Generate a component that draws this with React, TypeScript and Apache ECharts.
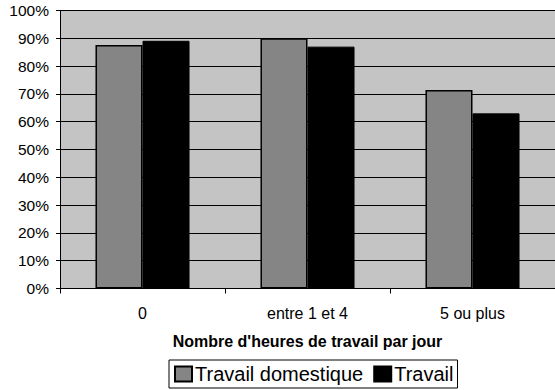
import React, { useEffect, useRef } from "react";
import * as echarts from "echarts";

const categories = ["0", "entre 1 et 4", "5 ou plus"];
const travailDomestique = [87.6, 90.0, 71.4];
const travail = [89.1, 87.0, 63.0];
const seriesNames = ["Travail domestique", "Travail"];
const xAxisTitle = "Nombre d'heures de travail par jour";

export default function App() {
  const ref = useRef<HTMLDivElement>(null);
  useEffect(() => {
    if (!ref.current) return;
    const chart = echarts.init(ref.current, undefined, { renderer: "svg" });
    const font = "'Liberation Sans', Arial, sans-serif";
    chart.setOption({
      animation: false,
      backgroundColor: "#ffffff",
      grid: {
        left: 60,
        top: 10.5,
        width: 504,
        height: 278,
        show: true,
        backgroundColor: "#c4c4c4",
        borderWidth: 0,
      },
      legend: {
        data: seriesNames,
        top: 360,
        left: 169,
        icon: "rect",
        itemWidth: 17,
        itemHeight: 15,
        itemGap: 10,
        padding: [4, 4, 4, 5],
        borderColor: "#000",
        borderWidth: 1,
        textStyle: { fontFamily: font, fontSize: 20, color: "#000", padding: [0, 0, 0, -2] },
      },
      xAxis: {
        type: "category",
        data: categories,
        name: xAxisTitle,
        nameLocation: "middle",
        nameGap: 45,
        nameTextStyle: { fontFamily: font, fontSize: 16, fontWeight: "bold", color: "#000" },
        axisLine: { lineStyle: { color: "#000", width: 1 } },
        axisTick: { show: true, length: 5, lineStyle: { color: "#000" } },
        axisLabel: { fontFamily: font, fontSize: 16, color: "#000", margin: 17 },
      },
      yAxis: {
        type: "value",
        min: 0,
        max: 100,
        interval: 10,
        axisLine: { show: true, lineStyle: { color: "#000", width: 1 } },
        axisTick: { show: true, length: 4, inside: false, lineStyle: { color: "#000" } },
        axisLabel: {
          fontFamily: font,
          fontSize: 15.5,
          color: "#000",
          margin: 11,
          formatter: (v: number) => v + "%",
        },
        splitLine: { show: true, lineStyle: { color: "#000", width: 1 } },
      },
      series: [
        {
          name: seriesNames[0],
          type: "bar",
          data: travailDomestique,
          barGap: "0%",
          barCategoryGap: "43%",
          itemStyle: { color: "#858585", borderColor: "#000", borderWidth: 1.5 },
        },
        {
          name: seriesNames[1],
          type: "bar",
          data: travail,
          itemStyle: { color: "#000000", borderColor: "#000", borderWidth: 1 },
        },
      ],
    });
    return () => chart.dispose();
  }, []);
  return (
    <div
      ref={ref}
      style={{ position: "fixed", left: 0, top: 0, width: 555, height: 390 }}
    />
  );
}
